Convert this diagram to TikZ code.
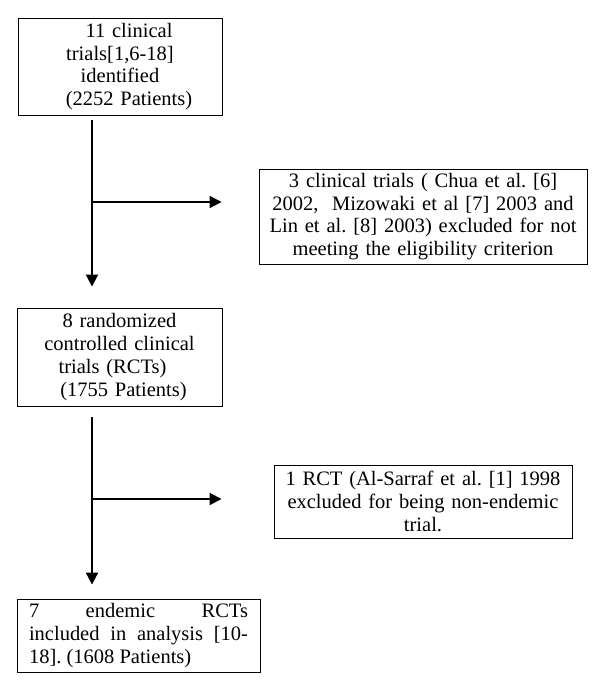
\documentclass[tikz,border=0pt]{standalone}
\usepackage{fontspec}
\setmainfont{Liberation Serif}
\usetikzlibrary{arrows.meta}
\frenchspacing

\begin{document}
\begin{tikzpicture}[x=1pt,y=1pt]
    \tikzset{box/.style={draw=black, line width=0.9pt, inner sep=0pt, align=center,
                         font=\fontsize{20.5}{22.8}\selectfont},
             flow/.style={line width=2pt, -{Triangle[length=12pt,width=12pt]}}}
    \useasboundingbox (0,0) rectangle (600,-686);
    % boxes
    \node [box, minimum width=204, minimum height=97, text width=196] (found) at (120,-66.5)
        {\hspace*{18pt}11 clinical\\ trials[1,6-18]\\ identified\\ \hspace*{18pt}(2252 Patients)};
    \node [box, minimum width=328, minimum height=95, text width=320] (excla) at (423,-216.5)
        {3 clinical trials ( Chua et al. [6]\\ 2002,\ \ Mizowaki et al [7] 2003 and\\
         Lin et al. [8] 2003) excluded for not\\ meeting the eligibility criterion};
    \node [box, minimum width=205, minimum height=98, text width=196] (rcts) at (119.5,-357)
        {8 randomized\\ controlled clinical\\ \hspace*{-14pt}trials (RCTs)\\ \hspace*{8pt}(1755 Patients)};
    \node [box, minimum width=298, minimum height=73, text width=290] (exclb) at (423,-501.5)
        {1 RCT (Al-Sarraf et al. [1] 1998\\ excluded for being non-endemic\\ trial.};
    \node [box, minimum width=243, minimum height=73, text width=219, align=justify] (endem) at (138.5,-635.5)
        {7 endemic RCTs\linebreak included in analysis [10-\linebreak 18]. (1608 Patients)};
    % forks
    \coordinate (forka) at (92,-202);
    \coordinate (forkb) at (92,-499);
    % connectors
    \draw [flow, shorten <=5pt, shorten >=21pt] (found.south -| forka) -- (rcts.north -| forka);
    \draw [flow, shorten >=37pt] (forka) -- (excla.west |- forka);
    \draw [flow, shorten <=11pt, shorten >=14pt] (rcts.south -| forkb) -- (endem.north -| forkb);
    \draw [flow, shorten >=52pt] (forkb) -- (exclb.west |- forkb);
\end{tikzpicture}
\end{document}
